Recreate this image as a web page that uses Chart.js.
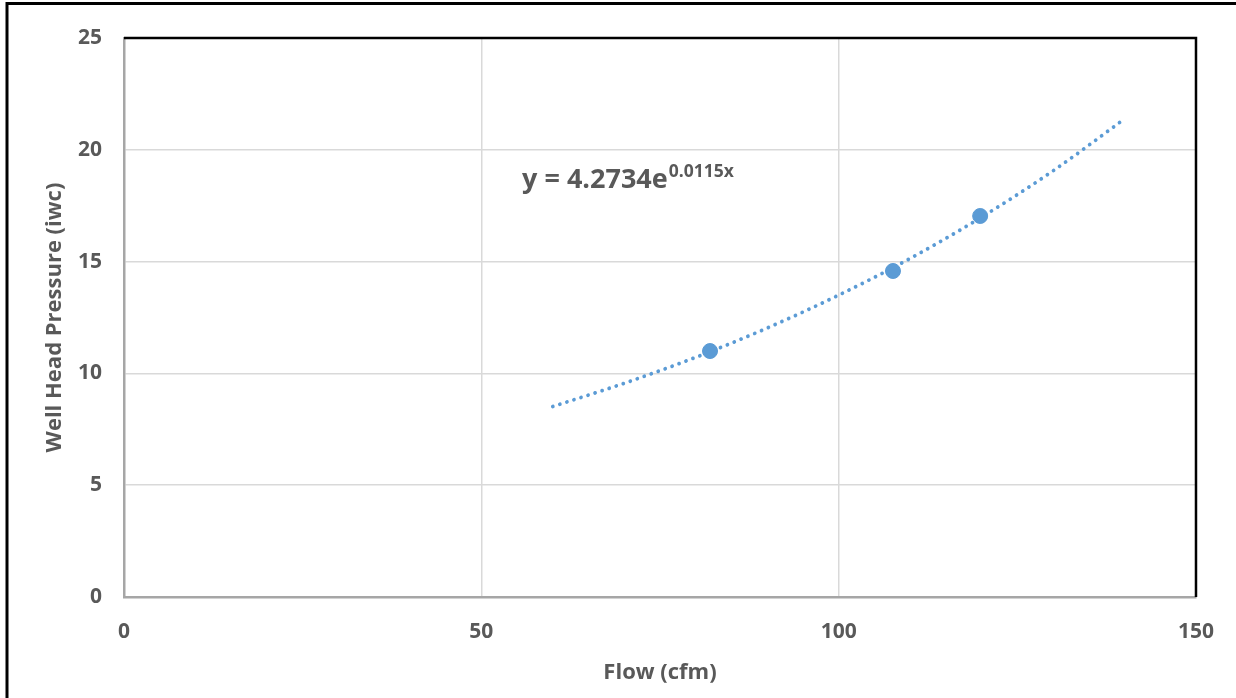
<!DOCTYPE html>
<html>
<head>
<meta charset="utf-8">
<title>Well Head Pressure vs Flow</title>
<script src="https://cdn.jsdelivr.net/npm/chart.js@4.4.1/dist/chart.umd.min.js"></script>
<style>
  html, body { margin: 0; padding: 0; background: #fff; }
  #wrap { width: 1236px; height: 698px; }
</style>
</head>
<body>
<div id="wrap"><canvas id="chart"></canvas></div>
<script>
"use strict"

// measured points
const flowCfm = [82, 107.6, 119.8]
const pressureIwc = [11.0, 14.58, 17.04]

// exponential trendline, values
const trendFlow = [60, 70, 80, 90, 100, 110, 120, 130, 140]
const trendPressure = [8.52, 9.56, 10.72, 12.03, 13.50, 15.14, 16.99, 19.06, 21.38]

const xTicks = [0, 50, 100, 150]
const yTicks = [0, 5, 10, 15, 20, 25]

const eqMain = "y = 4.2734e"
const eqExp = "0.0115x"

const blue = "#5B9BD5"
const textGray = "#595959"
const FONT = "'Open Sans', Lato, sans-serif"

const toXY = (xs, ys) => xs.map((x, i) => ({ x: x, y: ys[i] }))

// black frame of the picture, black top/right edge of the plot, equation text
const decorations = {
	id: "decorations",
	beforeDraw: function (chart) {
		const ctx = chart.ctx
		ctx.save()
		ctx.fillStyle = "#fff"
		ctx.fillRect(0, 0, chart.width, chart.height)
		ctx.strokeStyle = "#000"
		ctx.lineWidth = 3
		ctx.beginPath()
		ctx.moveTo(7, chart.height)
		ctx.lineTo(7, 3.5)
		ctx.lineTo(chart.width, 3.5)
		ctx.stroke()
		ctx.restore()
	},
	afterDatasetsDraw: function (chart) {
		const ctx = chart.ctx
		const a = chart.chartArea
		const xs = chart.scales.x
		const ys = chart.scales.y
		ctx.save()
		ctx.strokeStyle = "#000"
		ctx.lineWidth = 2.5
		ctx.beginPath()
		ctx.moveTo(a.left, a.top)
		ctx.lineTo(a.right, a.top)
		ctx.lineTo(a.right, a.bottom)
		ctx.stroke()

		// equation label anchored in data space
		const px = xs.getPixelForValue(55.7)
		const py = ys.getPixelForValue(18.3)
		ctx.fillStyle = textGray
		ctx.textBaseline = "alphabetic"
		ctx.font = "bold 27px " + FONT
		ctx.fillText(eqMain, px, py)
		const w = ctx.measureText(eqMain).width
		ctx.font = "bold 17.5px " + FONT
		ctx.fillText(eqExp, px + w + 1, py - 11)
		ctx.restore()
	}
}

new Chart(document.getElementById("chart"), {
	type: "scatter",
	data: {
		datasets: [{
			label: "Measured",
			data: toXY(flowCfm, pressureIwc),
			backgroundColor: blue,
			borderColor: blue,
			pointRadius: 7.5,
			pointHoverRadius: 7.5,
			showLine: false
		}, {
			label: "Expon. trend",
			data: toXY(trendFlow, trendPressure),
			showLine: true,
			borderColor: blue,
			borderWidth: 3.8,
			borderDash: [0.01, 7.4],
			borderCapStyle: "round",
			cubicInterpolationMode: "monotone",
			pointRadius: 0,
			fill: false
		}]
	},
	options: {
		responsive: true,
		maintainAspectRatio: false,
		animation: false,
		events: [],
		layout: { padding: { left: 0, top: 38, right: 40, bottom: 0 } },
		plugins: {
			legend: { display: false },
			tooltip: { enabled: false }
		},
		scales: {
			x: {
				type: "linear",
				min: 0,
				max: 150,
				afterBuildTicks: function (axis) {
					axis.ticks = xTicks.map(v => ({ value: v }))
				},
				afterFit: function (axis) { axis.height = 101 },
				grid: { color: "#d9d9d9", lineWidth: 1.5, drawTicks: false },
				border: { color: "#a6a6a6", width: 2.5 },
				ticks: {
					padding: 22,
					color: textGray,
					font: { family: FONT, size: 21, weight: "bold" }
				},
				title: {
					display: true,
					text: "Flow (cfm)",
					color: textGray,
					font: { family: FONT, size: 22, weight: "bold" },
					padding: { top: 0, bottom: 12 }
				}
			},
			y: {
				type: "linear",
				min: 0,
				max: 25,
				afterBuildTicks: function (axis) {
					axis.ticks = yTicks.map(v => ({ value: v }))
				},
				afterFit: function (axis) { axis.width = 124 },
				grid: { color: "#d9d9d9", lineWidth: 1.5, drawTicks: false },
				border: { color: "#a6a6a6", width: 2.5 },
				ticks: {
					padding: 22,
					color: textGray,
					font: { family: FONT, size: 21, weight: "bold" }
				},
				title: {
					display: true,
					text: "Well Head Pressure (iwc)",
					color: textGray,
					font: { family: FONT, size: 22, weight: "bold" },
					padding: { top: 42, bottom: 0 }
				}
			}
		}
	},
	plugins: [decorations]
})
</script>
</body>
</html>
